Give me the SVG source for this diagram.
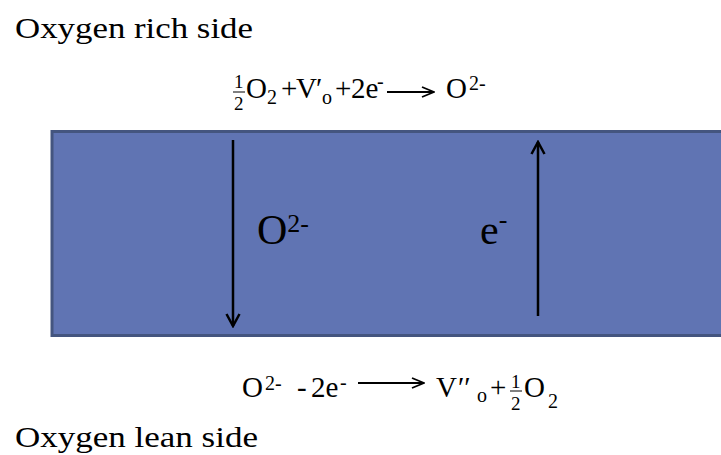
<svg xmlns="http://www.w3.org/2000/svg" width="721" height="455" viewBox="0 0 721 455">
<style>
.lbl{font-family:"Liberation Serif","DejaVu Serif",serif;fill:#000;font-size:30px}
.eq{font-family:"Liberation Serif","DejaVu Serif",serif;fill:#000;font-size:29px}
.sm{font-size:20px}
.fr{font-size:19px}
.big{font-family:"Liberation Serif","DejaVu Serif",serif;fill:#000;font-size:42px}
.bigs{font-size:26px}
.flow{stroke:#000;stroke-width:2.5;fill:none}
.rxn{stroke:#000;stroke-width:1.8;fill:none}
</style>
<defs>
<marker id="chev" markerUnits="userSpaceOnUse" viewBox="0 0 16 16" refX="14" refY="8" markerWidth="16" markerHeight="16" orient="auto">
<path d="M2,1.5 L14,8 L2,14.5" fill="none" stroke="#000" stroke-width="2.5"/>
</marker>
<marker id="thin" markerUnits="userSpaceOnUse" viewBox="0 0 14 12" refX="13" refY="6" markerWidth="14" markerHeight="12" orient="auto">
<path d="M1,1 L13,6 L1,11" fill="none" stroke="#000" stroke-width="1.8"/>
</marker>
</defs>
<g id="membrane">
<rect x="52" y="131.5" width="700" height="204" fill="#6074B3" stroke="#44557F" stroke-width="3"/>
</g>
<g id="rich-label"><text class="lbl" x="15" y="38" textLength="238" lengthAdjust="spacingAndGlyphs">Oxygen rich side</text></g>
<g id="lean-label"><text class="lbl" x="15" y="447" textLength="243" lengthAdjust="spacingAndGlyphs">Oxygen lean side</text></g>
<g id="top-equation">
<text class="eq"><tspan class="fr" x="234" y="88">1</tspan><tspan class="fr" x="234" y="110">2</tspan><tspan x="246" y="98">O</tspan><tspan class="sm" x="267" y="104">2</tspan><tspan x="281" y="98">+</tspan><tspan x="296" y="98">V</tspan><tspan x="316" y="98">′</tspan><tspan class="sm" x="322" y="104">o</tspan><tspan x="335" y="98">+</tspan><tspan x="351" y="98">2e</tspan><tspan class="sm" x="377" y="88">-</tspan><tspan x="446" y="98">O</tspan><tspan class="sm" x="469" y="90">2-</tspan></text>
<line x1="233" y1="92" x2="245" y2="92" stroke="#000" stroke-width="1"/>
</g>
<g id="bottom-equation">
<text class="eq"><tspan x="242" y="397">O</tspan><tspan class="sm" x="265" y="390">2-</tspan><tspan x="297" y="397">-</tspan><tspan x="311" y="397">2e</tspan><tspan class="sm" x="340" y="389">-</tspan><tspan x="436" y="397">V</tspan><tspan x="458" y="397">′′</tspan><tspan class="sm" x="477" y="402">o</tspan><tspan x="490" y="397">+</tspan><tspan class="fr" x="511" y="388">1</tspan><tspan class="fr" x="511" y="410">2</tspan><tspan x="524" y="397">O</tspan><tspan class="sm" x="548" y="408">2</tspan></text>
<line x1="510" y1="391" x2="522" y2="391" stroke="#000" stroke-width="1"/>
</g>
<g id="oxide-label"><text class="big" x="257" y="244">O<tspan class="bigs" dy="-12">2-</tspan></text></g>
<g id="electron-label"><text class="big" x="480" y="244">e<tspan class="bigs" dy="-16">-</tspan></text></g>
<g id="connectors">
<line class="flow" x1="233" y1="140" x2="233" y2="326" marker-end="url(#chev)"/>
<line class="flow" x1="538" y1="316" x2="538" y2="142" marker-end="url(#chev)"/>
<line class="rxn" x1="387" y1="92" x2="434" y2="92" marker-end="url(#thin)"/>
<line class="rxn" x1="358" y1="383" x2="424" y2="383" marker-end="url(#thin)"/>
</g>
</svg>
